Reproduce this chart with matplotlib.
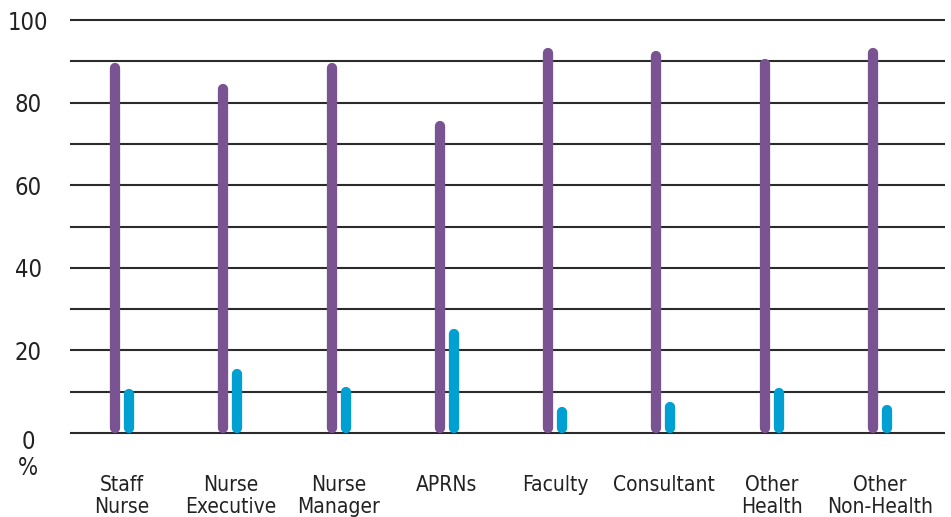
import matplotlib
matplotlib.use("Agg")
import matplotlib.pyplot as plt
import matplotlib.transforms as mtransforms
import numpy as np

categories = ["Staff\nNurse", "Nurse\nExecutive", "Nurse\nManager", "APRNs",
              "Faculty", "Consultant", "Other\nHealth", "Other\nNon-Health"]
purple_vals = [89.5, 84.5, 89.7, 75.5, 93.3, 92.6, 90.5, 93.1]
blue_vals = [10.7, 15.4, 11.1, 25.2, 6.4, 7.6, 10.8, 6.8]
yticks = [0, 20, 40, 60, 80, 100]

plt.rcParams['font.family'] = ['DejaVu Sans']
plt.rcParams['font.stretch'] = 'condensed'

W, H = 951, 517
fig = plt.figure(figsize=(W / 100, H / 100), dpi=100)
# axes box in pixels: x 70..945, y(0)=433, y(100)=20 (padded 1 unit each side)
px_per_unit = 413 / 100
ax = fig.add_axes([70 / W, (H - 433 - px_per_unit) / H, 875 / W,
                   (413 + 2 * px_per_unit) / H])
ax.set_xlim(-0.48, 7.6)
ax.set_ylim(-1, 101)

ax.set_yticks(yticks)
ax.set_yticks(range(10, 100, 20), minor=True)
ax.yaxis.grid(True, which='both', color='#2b2b2b', lw=1.5)
ax.set_axisbelow(True)
for s in ax.spines.values():
    s.set_visible(False)
ax.tick_params(axis='both', which='both', length=0)
ax.tick_params(axis='y', pad=30, labelsize=17, labelcolor='#222222')
ylabels = ax.get_yticklabels()
for lbl in ylabels:
    lbl.set_ha('center')
# "0" sits a bit under its gridline in the original
ylabels[0].set_transform(ylabels[0].get_transform() +
                         mtransforms.ScaledTranslation(0, -5 / 72, fig.dpi_scale_trans))

x = np.arange(len(categories))
ax.set_xticks(x)
ax.set_xticklabels(categories, fontsize=15, color='#222222', linespacing=1.15)
ax.tick_params(axis='x', pad=27)

# rounded bars: line with round caps, shortened by the cap radius
r = 5 / px_per_unit
dx = 7 / (875 / 8.08)
for xs, vals, col in [(x - dx, purple_vals, '#7a5393'), (x + dx, blue_vals, '#00a0d2')]:
    for xi, v in zip(xs, vals):
        ax.plot([xi, xi], [r, v - r], color=col, lw=7.4, solid_capstyle='round',
                zorder=3)

fig.text(28 / W, 1 - 468 / H, "%", ha='center', va='center', fontsize=17,
         color='#222222')

fig.savefig("out.png", dpi=100)
